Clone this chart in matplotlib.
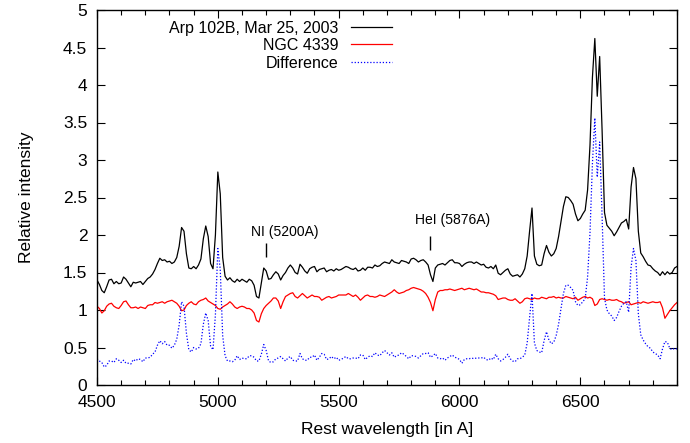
import numpy as np
import matplotlib
matplotlib.use("Agg")
import matplotlib.pyplot as plt
from matplotlib.ticker import MultipleLocator

plt.rcParams['font.family'] = ['Liberation Sans', 'DejaVu Sans']

# wavelength grid, 10 A steps
wl = np.arange(4500, 6901, 10)

arp102b = [
    1.40, 1.34, 1.26, 1.23, 1.31, 1.40, 1.41, 1.35, 1.38, 1.35,
    1.36, 1.44, 1.41, 1.36, 1.31, 1.37, 1.36, 1.37, 1.38, 1.34,
    1.38, 1.42, 1.44, 1.48, 1.54, 1.62, 1.69, 1.66, 1.67, 1.64,
    1.65, 1.62, 1.64, 1.70, 1.85, 2.10, 2.05, 1.75, 1.56, 1.55,
    1.58, 1.55, 1.60, 1.68, 1.95, 2.12, 1.98, 1.62, 1.55, 2.00,
    2.84, 2.55, 1.70, 1.45, 1.40, 1.43, 1.39, 1.37, 1.41, 1.38,
    1.41, 1.39, 1.37, 1.41, 1.39, 1.33, 1.18, 1.16, 1.36, 1.56,
    1.52, 1.41, 1.42, 1.47, 1.51, 1.48, 1.40, 1.46, 1.50, 1.56,
    1.60, 1.56, 1.50, 1.48, 1.61, 1.57, 1.52, 1.49, 1.55, 1.57,
    1.58, 1.51, 1.54, 1.55, 1.56, 1.51, 1.53, 1.54, 1.52, 1.55,
    1.53, 1.54, 1.56, 1.58, 1.57, 1.55, 1.54, 1.56, 1.52, 1.53,
    1.56, 1.53, 1.57, 1.57, 1.56, 1.60, 1.58, 1.59, 1.62, 1.64,
    1.63, 1.62, 1.67, 1.64, 1.63, 1.62, 1.66, 1.65, 1.64, 1.62,
    1.68, 1.69, 1.67, 1.64, 1.66, 1.67, 1.64, 1.60, 1.47, 1.38,
    1.56, 1.60, 1.61, 1.62, 1.60, 1.63, 1.66, 1.67, 1.63, 1.63,
    1.62, 1.58, 1.61, 1.63, 1.64, 1.64, 1.62, 1.64, 1.62, 1.60,
    1.61, 1.57, 1.56, 1.58, 1.55, 1.60, 1.49, 1.47, 1.50, 1.53,
    1.55, 1.48, 1.45, 1.46, 1.47, 1.44, 1.48, 1.55, 1.72, 2.05,
    2.36, 1.72, 1.61, 1.59, 1.60, 1.75, 1.86, 1.77, 1.72, 1.75,
    1.82, 1.98, 2.18, 2.38, 2.51, 2.50, 2.46, 2.41, 2.28, 2.19,
    2.22, 2.28, 2.33, 2.60, 3.20, 4.10, 4.62, 3.85, 4.38, 3.40,
    2.30, 2.13, 2.09, 2.05, 1.99, 2.04, 2.10, 2.16, 2.18, 2.21,
    2.08, 2.64, 2.90, 2.75, 2.05, 1.76, 1.71, 1.65, 1.60, 1.59,
    1.55, 1.52, 1.50, 1.46, 1.51, 1.47, 1.51, 1.48, 1.50, 1.56,
    1.58,
]

ngc4339 = [
    1.05, 1.02, 0.96, 0.99, 1.05, 1.08, 1.09, 1.05, 1.03, 1.02,
    1.06, 1.11, 1.12, 1.07, 1.03, 1.03, 1.04, 1.02, 1.04, 1.03,
    1.02, 1.06, 1.07, 1.07, 1.10, 1.09, 1.10, 1.11, 1.09, 1.11,
    1.12, 1.13, 1.11, 1.09, 1.05, 0.99, 1.00, 1.06, 1.09, 1.11,
    1.08, 1.07, 1.11, 1.13, 1.14, 1.16, 1.12, 1.10, 1.08, 1.06,
    1.02, 1.01, 1.04, 1.06, 1.08, 1.11, 1.08, 1.04, 1.02, 1.04,
    1.05, 1.04, 1.02, 1.02, 1.00, 0.96, 0.86, 0.84, 0.95, 1.02,
    1.06, 1.09, 1.12, 1.16, 1.16, 1.12, 1.02, 1.11, 1.18, 1.20,
    1.22, 1.23, 1.18, 1.16, 1.19, 1.22, 1.19, 1.16, 1.18, 1.20,
    1.18, 1.18, 1.17, 1.13, 1.15, 1.17, 1.18, 1.16, 1.17, 1.18,
    1.20, 1.20, 1.20, 1.20, 1.22, 1.20, 1.18, 1.20, 1.17, 1.13,
    1.16, 1.19, 1.20, 1.18, 1.18, 1.17, 1.18, 1.20, 1.19, 1.18,
    1.20, 1.22, 1.24, 1.27, 1.24, 1.22, 1.23, 1.24, 1.26, 1.27,
    1.29, 1.30, 1.29, 1.28, 1.27, 1.25, 1.22, 1.17, 1.10, 0.99,
    1.14, 1.24, 1.26, 1.26, 1.27, 1.27, 1.28, 1.27, 1.26, 1.27,
    1.28, 1.29, 1.27, 1.28, 1.29, 1.28, 1.27, 1.28, 1.26, 1.24,
    1.24, 1.23, 1.23, 1.22, 1.21, 1.19, 1.14, 1.15, 1.16, 1.16,
    1.14, 1.13, 1.13, 1.15, 1.12, 1.09, 1.11, 1.15, 1.16, 1.15,
    1.14, 1.16, 1.15, 1.15, 1.17, 1.16, 1.15, 1.17, 1.17, 1.18,
    1.16, 1.17, 1.16, 1.16, 1.18, 1.17, 1.16, 1.15, 1.17, 1.13,
    1.15, 1.17, 1.18, 1.16, 1.17, 1.15, 1.06, 1.08, 1.14, 1.15,
    1.14, 1.13, 1.14, 1.13, 1.13, 1.14, 1.12, 1.11, 1.09, 1.10,
    1.11, 1.07, 1.08, 1.09, 1.10, 1.09, 1.11, 1.10, 1.09, 1.10,
    1.11, 1.10, 1.10, 1.11, 1.03, 0.89, 0.94, 0.99, 1.03, 1.07,
    1.10,
]

# marked lines: name, rest wavelength, label height, tick bottom/top
line_names = ["NI (5200A)", "HeI (5876A)"]
line_wl = [5200, 5876]
label_y = [2.04, 2.20]
tick_lo = [1.71, 1.80]
tick_hi = [1.89, 1.99]

yticks = [0, 0.5, 1, 1.5, 2, 2.5, 3, 3.5, 4, 4.5, 5]
ytick_labels = ["0", "0.5", "1", "1.5", "2", "2.5", "3", "3.5", "4", "4.5", "5"]

arp = np.array(arp102b)
ngc = np.array(ngc4339)
diff = arp - ngc

fig = plt.figure(figsize=(6.9, 4.43), dpi=100)
ax = fig.add_axes([97 / 690, 1 - 385 / 443, 580 / 690, 375 / 443])

ax.plot(wl, arp, color='black', lw=0.9, label="Arp 102B, Mar 25, 2003")
ax.plot(wl, ngc, color='#ff0000', lw=0.9, label="NGC 4339")
ax.plot(wl, diff, color='#0000ff', lw=0.9, ls=(0, (1, 1.5)), label="Difference")

for name, w, ly, lo, hi in zip(line_names, line_wl, label_y, tick_lo, tick_hi):
    ax.vlines(w, lo, hi, color='black', lw=1.0)
    ax.text(w - 62, ly, name, fontsize=10, ha='left', va='center')

ax.set_xlim(4500, 6900)
ax.set_ylim(0, 5)
ax.xaxis.set_major_locator(MultipleLocator(500))
ax.xaxis.set_minor_locator(MultipleLocator(100))
ax.set_yticks(yticks)
ax.set_yticklabels(ytick_labels)

ax.tick_params(which='both', direction='in', top=True, right=True, labelsize=12.5)
ax.tick_params(which='major', length=5.8, width=0.8)
ax.tick_params(which='minor', length=3.4, width=0.8)
ax.tick_params(axis='x', pad=7)
ax.tick_params(axis='y', pad=7)
for s in ax.spines.values():
    s.set_linewidth(1.0)

ax.set_xlabel("Rest wavelength [in A]", fontsize=12.5, labelpad=9)
ax.set_ylabel("Relative intensity", fontsize=12.5, labelpad=21)

ax.legend(loc='upper right', bbox_to_anchor=(0.509, 0.972), frameon=False,
          markerfirst=False, fontsize=11.5, handlelength=2.6, handletextpad=0.75,
          labelspacing=0.16, borderpad=0, borderaxespad=0)

fig.savefig("out.png", dpi=100)
